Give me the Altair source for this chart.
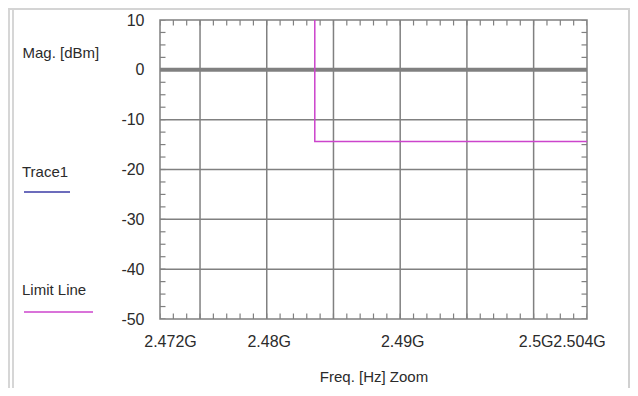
import altair as alt
import pandas as pd

# ---- data ----
x_label_values = [2.472, 2.48, 2.49, 2.5, 2.504]          # GHz
x_grid_values = [2.475, 2.48, 2.485, 2.49, 2.495, 2.5]    # GHz
x_minor_mhz = list(range(2472, 2505))                      # 1 MHz tick marks
y_label_values = [10, 0, -10, -20, -30, -40, -50]
y_grid_values = [-10, -20, -30, -40]
y_zero = [0]
y_minor_values = [10, 7.5, 5, 2.5, 0, -2.5, -5, -7.5, -10, -12.5, -15, -17.5,
                  -20, -22.5, -25, -27.5, -30, -32.5, -35, -37.5, -40, -42.5,
                  -45, -47.5, -50]
limit_freq = [2.4836, 2.4836, 2.504]
limit_mag = [10, -14.4, -14.4]
legend_names = ["Trace1", "Limit Line"]
legend_colors = ["#3b3ba6", "#cc44cc"]

FONT = "Liberation Sans"
FS = 16
TXT = "#2b2b2b"
GRID = "#808080"
W, H = 427, 299
X0, X1, Y0, Y1 = 2.472, 2.504, -50, 10

xs = alt.Scale(domain=[X0, X1], nice=False, zero=False)
ys = alt.Scale(domain=[Y0, Y1], nice=False, zero=False)

x_axis = alt.Axis(values=x_label_values,
                  labelExpr="format(datum.value, '~g') + 'G'",
                  grid=False, ticks=False, domain=False,
                  labelFont=FONT, labelFontSize=FS, labelColor=TXT,
                  labelPadding=14, labelOverlap=False, labelFlush=False,
                  labelBound=False,
                  labelOffset={"condition": [
                      {"test": "datum.value < 2.473", "value": 10},
                      {"test": "datum.value > 2.503", "value": -8}],
                      "value": 2},
                  titleFont=FONT, titleFontSize=FS - 1, titleColor=TXT,
                  titleFontWeight="normal", titlePadding=20)
y_axis = alt.Axis(values=y_label_values, grid=False, ticks=False,
                  labelExpr="datum.value + ''",
                  domain=False, labelFont=FONT, labelFontSize=FS,
                  labelColor=TXT, labelPadding=16, labelFlush=False,
                  labelBound=False, labelOverlap=False,
                  labelBaseline="middle",
                  titleFont=FONT, titleFontSize=FS - 1, titleColor=TXT,
                  titleFontWeight="normal", titleAngle=0,
                  titleAlign="left", titleBaseline="middle",
                  titleX=-138, titleY=32)


def X(field):
    return alt.X(field, scale=xs, axis=x_axis, title="Freq. [Hz] Zoom")


def Y(field):
    return alt.Y(field, scale=ys, axis=y_axis, title="Mag. [dBm]")


x_minor = [m / 1000 for m in x_minor_mhz]

grid_x = alt.Chart(pd.DataFrame({"f": x_grid_values})).mark_rule(
    color=GRID, strokeWidth=1.5).encode(x=X("f:Q"))
grid_y = alt.Chart(pd.DataFrame({"m": y_grid_values})).mark_rule(
    color=GRID, strokeWidth=1.5).encode(y=Y("m:Q"))
zero_line = alt.Chart(pd.DataFrame({"m": y_zero})).mark_rule(
    color="#808080", strokeWidth=4).encode(y=Y("m:Q"))

df_top = pd.DataFrame({"f": x_minor, "m": [Y1] * len(x_minor)})
df_bot = pd.DataFrame({"f": x_minor, "m": [Y0] * len(x_minor)})
df_left = pd.DataFrame({"f": [X0] * len(y_minor_values), "m": y_minor_values})
df_right = pd.DataFrame({"f": [X1] * len(y_minor_values), "m": y_minor_values})

tick_style = dict(color=GRID, size=11, thickness=1.2, clip=True, opacity=1)


def ticks(df, orient):
    return alt.Chart(df).mark_tick(orient=orient, **tick_style).encode(
        x=X("f:Q"), y=Y("m:Q"))


top_ticks = ticks(df_top, "vertical")
bot_ticks = ticks(df_bot, "vertical")
left_ticks = ticks(df_left, "horizontal")
right_ticks = ticks(df_right, "horizontal")

limit = alt.Chart(pd.DataFrame({"f": limit_freq, "m": limit_mag,
                                "o": list(range(len(limit_freq)))})).mark_line(
    color=legend_colors[1], strokeWidth=1.5, clip=True).encode(
    x=X("f:Q"), y=Y("m:Q"), order="o:Q")

# ---- custom legend on the left (pixel layout) ----
leg1 = pd.DataFrame({"name": [legend_names[0]]})
leg2 = pd.DataFrame({"name": [legend_names[1]]})
leg1_text = alt.Chart(leg1).mark_text(
    font=FONT, fontSize=FS - 1, color=TXT, align="left", baseline="middle").encode(
    text="name:N", x=alt.value(-138), y=alt.value(152))
leg1_line = alt.Chart(leg1).mark_rule(
    color=legend_colors[0], strokeWidth=1.5).encode(
    x=alt.value(-136), x2=alt.value(-90), y=alt.value(172))
leg2_text = alt.Chart(leg2).mark_text(
    font=FONT, fontSize=FS - 1, color=TXT, align="left", baseline="middle").encode(
    text="name:N", x=alt.value(-138), y=alt.value(270))
leg2_line = alt.Chart(leg2).mark_rule(
    color=legend_colors[1], strokeWidth=1.5).encode(
    x=alt.value(-136), x2=alt.value(-67), y=alt.value(292))

# ---- window frame decoration ----
one = pd.DataFrame({"a": [0]})
frame_top = alt.Chart(one).mark_rule(color="#d4d4d4", strokeWidth=2).encode(
    x=alt.value(-152), x2=alt.value(470), y=alt.value(-11))
frame_l1 = alt.Chart(one).mark_rule(color="#c8c8c8", strokeWidth=1.5).encode(
    x=alt.value(-151), y=alt.value(-10), y2=alt.value(380))
frame_l2 = alt.Chart(one).mark_rule(color="#c8c8c8", strokeWidth=1.5).encode(
    x=alt.value(-147), y=alt.value(-10), y2=alt.value(380))
frame_r = alt.Chart(one).mark_rule(color="#d0d0d0", strokeWidth=2).encode(
    x=alt.value(469), y=alt.value(-10), y2=alt.value(380))

chart = alt.layer(
    grid_x, grid_y, top_ticks, bot_ticks, left_ticks, right_ticks,
    zero_line, limit, leg1_text, leg1_line, leg2_text, leg2_line,
    frame_top, frame_l1, frame_l2, frame_r,
).properties(
    width=W, height=H,
    autosize=alt.AutoSizeParams(type="none"),
    padding={"left": 152, "top": 12, "right": 43, "bottom": 69},
    background="white",
).configure_view(stroke=GRID, strokeWidth=1.5)

chart.save("out.html", embed_options={"renderer": "svg", "actions": False})
